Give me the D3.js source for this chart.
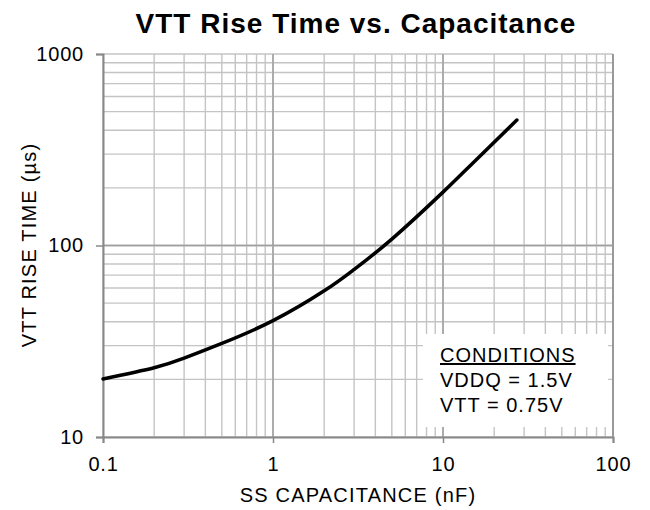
<!DOCTYPE html>
<html>
<head>
<meta charset="utf-8">
<script src="https://cdn.jsdelivr.net/npm/d3@7"></script>
<style>
  body { margin: 0; background: #fff; }
  text { font-family: "Liberation Sans", Arial, sans-serif; }
</style>
</head>
<body>
<div id="chart"></div>
<script>
// curve
const capNF = [0.1, 0.2, 0.3, 0.5, 1, 2, 3, 5, 10, 15, 27.2];
const riseUs = [20.1, 23, 25.8, 30.8, 40.5, 58, 75, 108, 190, 270, 452];
const xTicks = [0.1, 1, 10, 100];
const yTicks = [10, 100, 1000];
const conditions = ["CONDITIONS", "VDDQ = 1.5V", "VTT = 0.75V"];

const fullWidth = 650;
const fullHeight = 510;
const margin = { top: 54, right: 37, bottom: 73, left: 103 };
const width = fullWidth - margin.left - margin.right;
const height = fullHeight - margin.top - margin.bottom;

const svg = d3
  .select("#chart")
  .append("svg")
  .attr("width", fullWidth)
  .attr("height", fullHeight);

const g = svg.append("g").attr("transform", `translate(${margin.left}, ${margin.top})`);

const x = d3.scaleLog().domain([0.1, 100]).range([0, width]);
const y = d3.scaleLog().domain([10, 1000]).range([height, 0]);

// minor grid, 1..10 in each decade
const minorX = [];
for (let d = 0.1; d < 100; d *= 10) for (let k = 1; k <= 10; k++) minorX.push(d * k);
const minorY = [];
for (let d = 10; d < 1000; d *= 10) for (let k = 1; k <= 10; k++) minorY.push(d * k);

g.append("g")
  .selectAll("line")
  .data(minorX)
  .enter()
  .append("line")
  .attr("x1", d => x(d))
  .attr("x2", d => x(d))
  .attr("y1", 0)
  .attr("y2", height)
  .style("stroke", "#c4c4c4")
  .style("stroke-width", 1.4);

g.append("g")
  .selectAll("line")
  .data(minorY)
  .enter()
  .append("line")
  .attr("x1", 0)
  .attr("x2", width)
  .attr("y1", d => y(d))
  .attr("y2", d => y(d))
  .style("stroke", "#c4c4c4")
  .style("stroke-width", 1.4);

// darker major lines inside
g.append("g")
  .selectAll("line")
  .data([1, 10])
  .enter()
  .append("line")
  .attr("x1", d => x(d))
  .attr("x2", d => x(d))
  .attr("y1", 0)
  .attr("y2", height)
  .style("stroke", "#a0a0a0")
  .style("stroke-width", 1.4);

g.append("line")
  .attr("x1", 0)
  .attr("x2", width)
  .attr("y1", y(100))
  .attr("y2", y(100))
  .style("stroke", "#a0a0a0")
  .style("stroke-width", 1.4);

// white box behind the conditions
g.append("rect")
  .attr("x", 320)
  .attr("y", 280)
  .attr("width", 185)
  .attr("height", 93)
  .style("fill", "#fff");

// axes
const xAxis = g
  .append("g")
  .attr("transform", `translate(0, ${height})`)
  .call(d3.axisBottom(x).tickValues(xTicks).tickFormat(d => d).tickSize(6).tickPadding(14));
const yAxis = g
  .append("g")
  .call(d3.axisLeft(y).tickValues(yTicks).tickFormat(d => d).tickSize(7).tickPadding(12));

[xAxis, yAxis].forEach(a => {
  a.select(".domain").style("stroke", "#888").style("stroke-width", 2);
  a.selectAll(".tick line").style("stroke", "#888").style("stroke-width", 1.5);
  a.selectAll(".tick text")
    .style("font-size", "20px")
    .style("letter-spacing", "0.8px")
    .style("fill", "#000")
    .style("font-family", "Liberation Sans, Arial, sans-serif");
});

// right border
g.append("line")
  .attr("x1", width)
  .attr("x2", width)
  .attr("y1", 0)
  .attr("y2", height)
  .style("stroke", "#999")
  .style("stroke-width", 2);

// curve
const line = d3
  .line()
  .x((d, i) => x(capNF[i]))
  .y(d => y(d))
  .curve(d3.curveNatural);

g.append("path")
  .datum(riseUs)
  .attr("d", line)
  .style("fill", "none")
  .style("stroke", "#000")
  .style("stroke-width", 3.5)
  .style("stroke-linecap", "round");

// conditions text
g.selectAll(".cond")
  .data(conditions)
  .enter()
  .append("text")
  .attr("class", "cond")
  .attr("x", 337)
  .attr("y", (d, i) => 308 + i * 25)
  .style("font-size", "20px")
  .style("letter-spacing", "1px")
  .style("text-decoration", (d, i) => (i === 0 ? "underline" : "none"))
  .text(d => d);

// title
svg
  .append("text")
  .attr("x", 356)
  .attr("y", 33)
  .attr("text-anchor", "middle")
  .style("font-size", "28px")
  .style("font-weight", "bold")
  .style("letter-spacing", "1px")
  .text("VTT  Rise Time vs. Capacitance");

// axis titles
svg
  .append("text")
  .attr("x", 358)
  .attr("y", 502)
  .attr("text-anchor", "middle")
  .style("font-size", "20px")
  .style("letter-spacing", "1.2px")
  .text("SS CAPACITANCE (nF)");

svg
  .append("text")
  .attr("transform", `translate(36, 245) rotate(-90)`)
  .attr("text-anchor", "middle")
  .style("font-size", "20px")
  .style("letter-spacing", "1.2px")
  .text("VTT RISE TIME  (µs)");
</script>
</body>
</html>
